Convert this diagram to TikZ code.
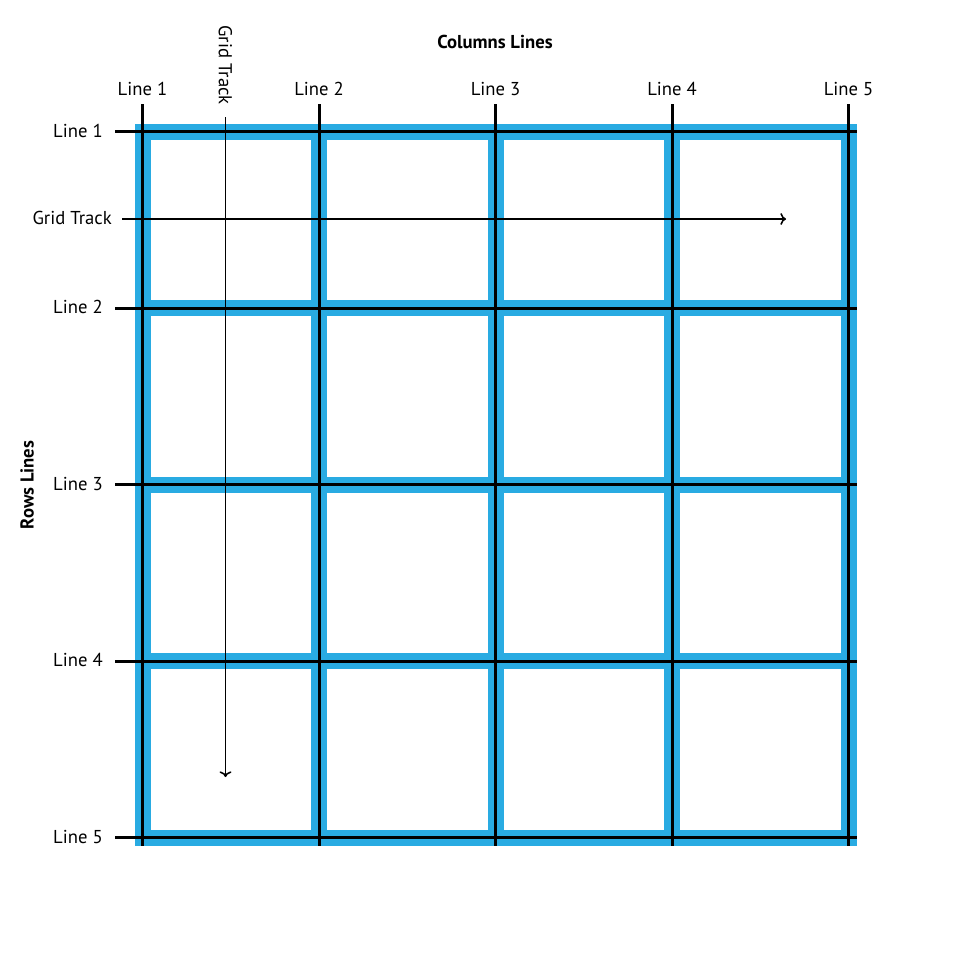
\documentclass[tikz,border=0pt]{standalone}
\usepackage{fontspec}
\setmainfont{PT Sans}
\usepackage{tikz}
\usetikzlibrary{arrows.meta,positioning,calc}
\definecolor{gridblue}{HTML}{29ABE2}

\begin{document}
\begin{tikzpicture}[x=0.75pt, y=-0.75pt, every node/.style={font=\fontsize{14}{16}\selectfont}, >=To]
\tikzstyle{label}=[inner sep=0pt]
\tikzstyle{title}=[inner sep=0pt, font=\fontsize{14}{16}\selectfont\bfseries]
\tikzstyle{gridline}=[line width=2.25pt]
\tikzstyle{track}=[->, line width=1.2pt]
\useasboundingbox (0,0) rectangle (974,958);
% blue frame with white cells
\fill[gridblue] (134.5,123.5) rectangle (856.5,845.5);
\foreach \i in {0,...,3}
  \foreach \j in {0,...,3}
    \fill[white] ({150.5+176.5*\i},{139.5+176.5*\j}) rectangle ++(160.5,160.5);
% grid lines
\foreach \i in {0,...,4}
  \draw[gridline] ({142.5+176.5*\i},104) -- ({142.5+176.5*\i},845.5);
\foreach \j in {0,...,4}
  \draw[gridline] (115,{131.5+176.5*\j}) -- (856.5,{131.5+176.5*\j});
% labels
\node[title] (collines) at (495,42) {Columns Lines};
\node[title, rotate=90] (rowlines) at (27,485) {Rows Lines};
\foreach \i in {1,...,5}
  \node[label, anchor=base] (col\i) at ({142.5+176.5*(\i-1)},95) {Line \i};
\foreach \i in {1,...,5}
  \node[label, anchor=base east] (row\i) at (103,{137+176.5*(\i-1)}) {Line \i};
\node[label, anchor=base east] (trackh) at (112,224) {Grid Track};
\node[label, rotate=-90, anchor=east] (trackv) at (225.5,105) {Grid Track};
% track arrows
\coordinate (hend) at (786,219);
\coordinate (vend) at (225.5,777);
\draw[track, shorten <=7.5pt] (trackh.east |- hend) -- (hend);
\draw[track, shorten <=9pt] (trackv.east) -- (vend);
\end{tikzpicture}
\end{document}
